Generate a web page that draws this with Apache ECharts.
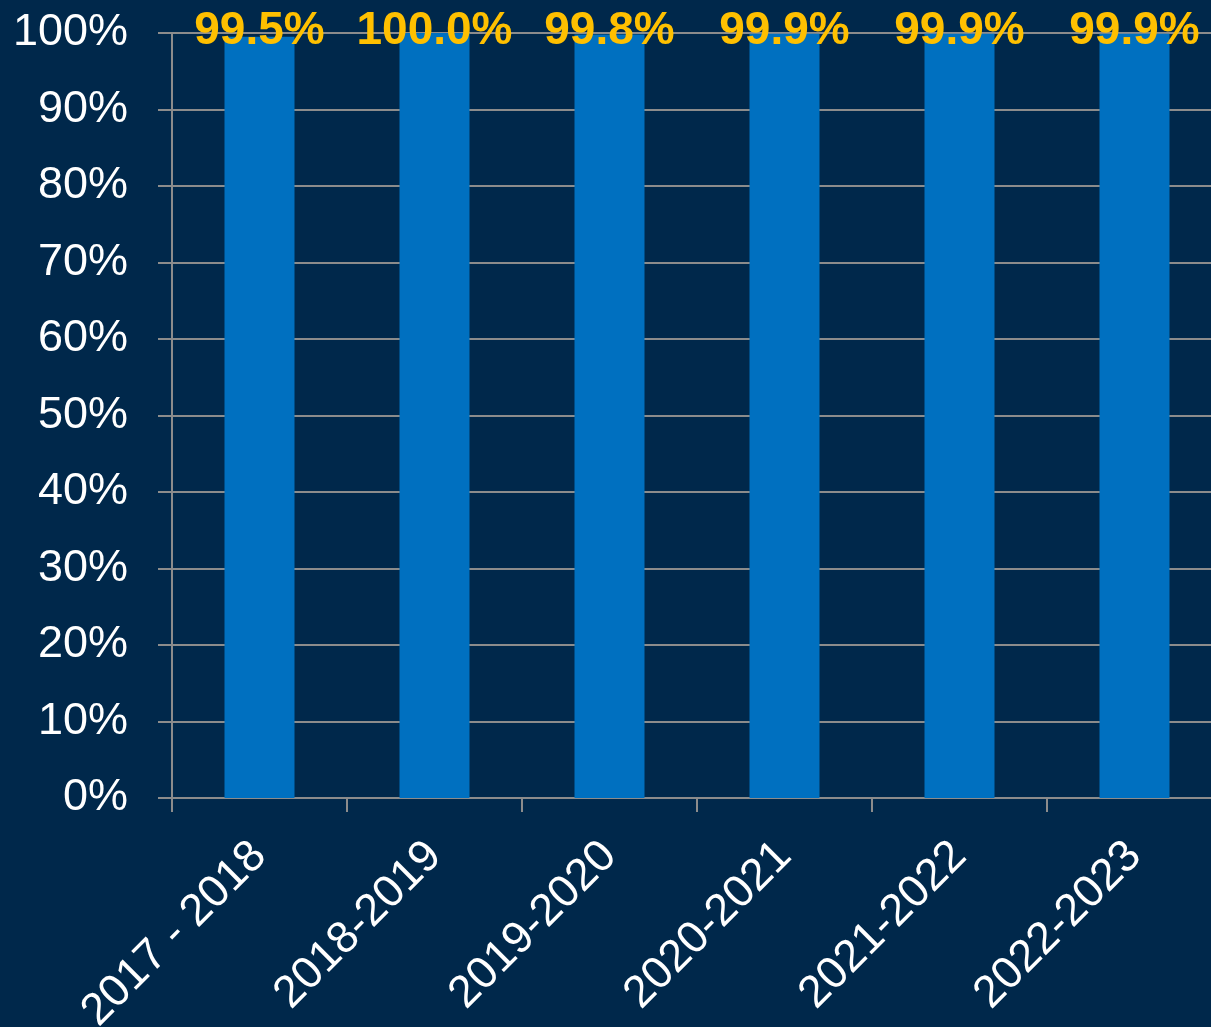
<!DOCTYPE html>
<html>
<head>
<meta charset="utf-8">
<script src="https://cdn.jsdelivr.net/npm/echarts@6/dist/echarts.min.js"></script>
<style>
html,body{margin:0;padding:0;background:#00284B;}
#c{width:1211px;height:1027px;}
</style>
</head>
<body>
<div id="c"></div>
<script>
var categories = ['2017 - 2018', '2018-2019', '2019-2020', '2020-2021', '2021-2022', '2022-2023'];
var values = [99.5, 100.0, 99.8, 99.9, 99.9, 99.9];
var yTicks = [0, 10, 20, 30, 40, 50, 60, 70, 80, 90, 100];

var chart = echarts.init(document.getElementById('c'), null, {renderer: 'canvas'});
var gray = '#8C8C8C';
var font = 'Liberation Sans, Arial, sans-serif';
var yMax = yTicks[yTicks.length - 1];
chart.setOption({
  backgroundColor: '#00284B',
  animation: false,
  grid: {left: 172, width: 1050, top: 33, bottom: 229, containLabel: false, outerBoundsMode: 'none'},
  xAxis: {
    type: 'category',
    data: categories,
    boundaryGap: true,
    axisLine: {lineStyle: {color: gray, width: 2}},
    axisTick: {show: true, length: 14, lineStyle: {color: gray, width: 2}},
    axisLabel: {
      color: '#FFFFFF', fontFamily: font,
      fontSize: 45, rotate: 45, margin: 51, interval: 0
    },
    splitLine: {show: false}
  },
  yAxis: {
    type: 'value',
    min: yTicks[0], max: yMax, interval: 10,
    axisLine: {show: true, lineStyle: {color: gray, width: 2}},
    axisTick: {show: true, length: 14, lineStyle: {color: gray, width: 2}},
    axisLabel: {
      color: '#FFFFFF', fontFamily: font,
      fontSize: 45, margin: 44,
      formatter: function (v) { return v + '%'; }
    },
    splitLine: {show: true, lineStyle: {color: gray, width: 2}}
  },
  series: [{
    type: 'bar',
    data: values,
    barWidth: '40%',
    itemStyle: {color: '#0070C0'}
  }, {
    type: 'scatter',
    data: categories.map(function (c) { return [c, yMax]; }),
    symbolSize: 0,
    silent: true,
    itemStyle: {opacity: 1},
    label: {
      show: true, position: 'inside', offset: [0, -2],
      color: '#FFC000', fontWeight: 'bold', fontSize: 46,
      fontFamily: font,
      formatter: function (p) { return values[p.dataIndex].toFixed(1) + '%'; }
    }
  }]
});
</script>
</body>
</html>
